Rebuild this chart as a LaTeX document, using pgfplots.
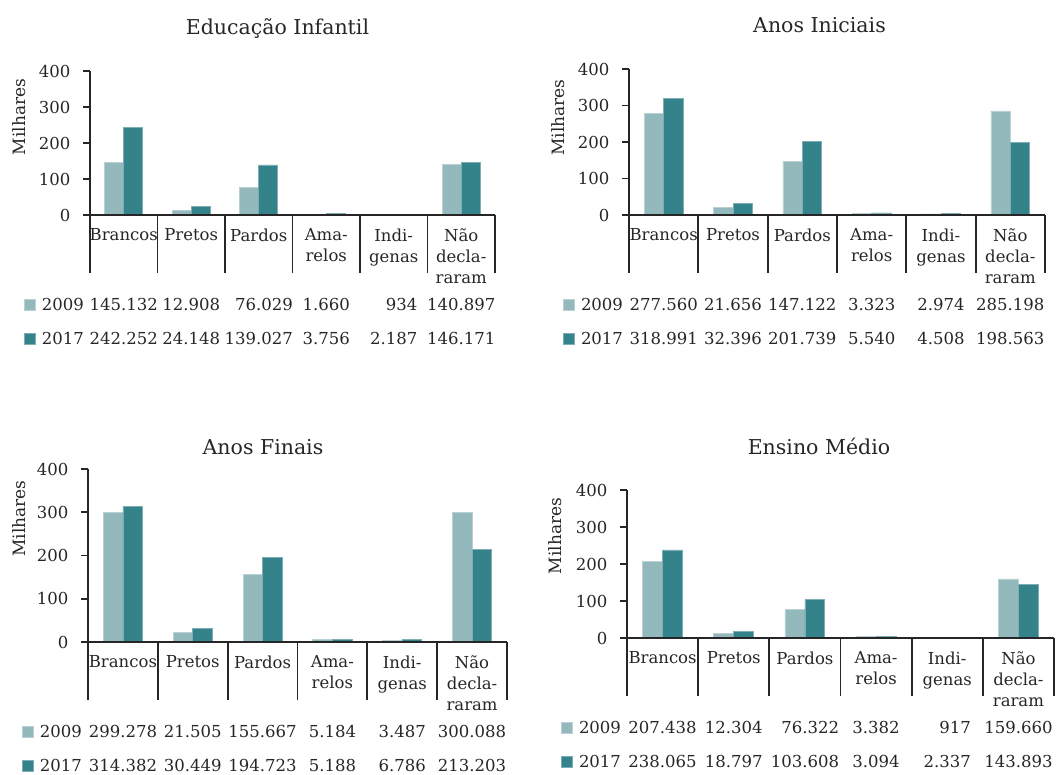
\documentclass[border=0pt]{standalone}
\usepackage{pgfplots}
\usepackage{pgfplotstable}
\pgfplotsset{compat=1.18}
\usepackage{fontspec}
\setmainfont{DejaVu Serif}
\definecolor{cA}{HTML}{93B9BC}
\definecolor{cB}{HTML}{35838A}
\definecolor{ax}{HTML}{262626}

% values in thousands (Milhares)
\pgfplotstableread{
x a b
0 145.132 242.252
1 12.908 24.148
2 76.029 139.027
3 1.660 3.756
4 0.934 2.187
5 140.897 146.171
}\tEI
\pgfplotstableread{
x a b
0 277.560 318.991
1 21.656 32.396
2 147.122 201.739
3 3.323 5.540
4 2.974 4.508
5 285.198 198.563
}\tAI
\pgfplotstableread{
x a b
0 299.278 314.382
1 21.505 30.449
2 155.667 194.723
3 5.184 5.188
4 3.487 6.786
5 300.088 213.203
}\tAF
\pgfplotstableread{
x a b
0 207.438 238.065
1 12.304 18.797
2 76.322 103.608
3 3.382 3.094
4 0.917 2.337
5 159.660 143.893
}\tEM

\pgfplotsset{
  panel/.style={
    scale only axis,
    anchor=south west,
    ymin=0, ymax=400, xmin=-0.5, xmax=5.5,
    ytick={0,100,200,300,400},
    xtick={0,...,5},
    xticklabels={Brancos,Pretos,Pardos,{Ama-\\relos},{Indi-\\genas},{Não\\decla-\\raram}},
    axis x line*=bottom, axis y line*=left,
    axis line style={draw=ax, line width=1.7pt, -},
    axis on top,
    tick align=outside,
    major tick length=7pt,
    xtick style={draw=none},
    ytick style={draw=ax, line width=1.7pt},
    /pgf/number format/assume math mode=true,
    tick label style={font=\fontsize{16.5}{21}\selectfont, text=ax},
    xticklabel style={align=center, anchor=north, yshift=-3pt},
    yticklabel style={anchor=east, xshift=-9pt},
    ybar, bar width=0.28,
    clip=false,
    legend style={at={(0,0)}, anchor=north west, xshift=-66pt, yshift=-83pt,
      draw=none, fill=none, inner sep=0pt, row sep=20.5pt, column sep=6pt,
      font=\fontsize{16.5}{21}\selectfont, text=ax,
      nodes={inner sep=0pt}},
    legend cell align=left,
    legend image code/.code={\fill[##1] (0pt,-5pt) rectangle (11pt,6pt);},
  },
}
\tikzset{
  val/.style={anchor=north, align=right, font=\fontsize{16.5}{34}\selectfont,
    text=ax, inner sep=0pt, yshift=-83.5pt},
  ttl/.style={anchor=base, font=\fontsize{20.5}{24}\selectfont, text=ax},
  ylab/.style={rotate=90, font=\fontsize{17}{20}\selectfont, text=ax},
}
\newcommand{\seps}{\pgfplotsinvokeforeach{-0.5,0.5,1.5,2.5,3.5,4.5,5.5}{\draw[ax, line width=1.7pt] (axis cs:##1,0) -- ++(0pt,-58pt);}}
\newcommand{\bars}[1]{%
  \addplot[fill=cA, draw=white!35!cA, line width=0.8pt, bar shift=-0.14] table[x=x,y=a]{#1};
  \addlegendentry{2009}
  \addplot[fill=cB, draw=white!35!cB, line width=0.8pt, bar shift=0.14] table[x=x,y=b]{#1};
  \addlegendentry{2017}
}

\begin{document}
\begin{tikzpicture}

% Panel 1
\begin{axis}[panel, at={(90pt,-215pt)}, width=405pt, height=144pt]
\bars{\tEI}
\seps
\node[val] at (axis cs:0,0) {145.132\\242.252};
\node[val] at (axis cs:1,0) {12.908\\24.148};
\node[val] at (axis cs:2,0) {76.029\\139.027};
\node[val] at (axis cs:3,0) {1.660\\3.756};
\node[val] at (axis cs:4,0) {934\\2.187};
\node[val] at (axis cs:5,0) {140.897\\146.171};
\end{axis}

% Panel 2
\begin{axis}[panel, at={(629pt,-215pt)}, width=416pt, height=146pt]
\bars{\tAI}
\seps
\node[val] at (axis cs:0,0) {277.560\\318.991};
\node[val] at (axis cs:1,0) {21.656\\32.396};
\node[val] at (axis cs:2,0) {147.122\\201.739};
\node[val] at (axis cs:3,0) {3.323\\5.540};
\node[val] at (axis cs:4,0) {2.974\\4.508};
\node[val] at (axis cs:5,0) {285.198\\198.563};
\end{axis}

% Panel 3
\begin{axis}[panel, at={(88pt,-642pt)}, width=419pt, height=173pt]
\bars{\tAF}
\seps
\node[val] at (axis cs:0,0) {299.278\\314.382};
\node[val] at (axis cs:1,0) {21.505\\30.449};
\node[val] at (axis cs:2,0) {155.667\\194.723};
\node[val] at (axis cs:3,0) {5.184\\5.188};
\node[val] at (axis cs:4,0) {3.487\\6.786};
\node[val] at (axis cs:5,0) {300.088\\213.203};
\end{axis}

% Panel 4
\begin{axis}[panel, at={(627pt,-638pt)}, width=427pt, height=148pt]
\bars{\tEM}
\seps
\node[val] at (axis cs:0,0) {207.438\\238.065};
\node[val] at (axis cs:1,0) {12.304\\18.797};
\node[val] at (axis cs:2,0) {76.322\\103.608};
\node[val] at (axis cs:3,0) {3.382\\3.094};
\node[val] at (axis cs:4,0) {917\\2.337};
\node[val] at (axis cs:5,0) {159.660\\143.893};
\end{axis}

\node[ttl] at (277.5pt,-35pt) {Educação Infantil};
\node[ttl] at (819.5pt,-33pt) {Anos Iniciais};
\node[ttl] at (263pt,-454pt) {Anos Finais};
\node[ttl] at (819pt,-454pt) {Ensino Médio};

\node[ylab] at (19pt,-117pt) {Milhares};
\node[ylab] at (558.5pt,-117.5pt) {Milhares};
\node[ylab] at (19pt,-518.5pt) {Milhares};
\node[ylab] at (555.5pt,-536pt) {Milhares};

\pgfresetboundingbox
\path[use as bounding box] (0pt,0pt) rectangle (1063pt,-775pt);
\end{tikzpicture}
\end{document}
